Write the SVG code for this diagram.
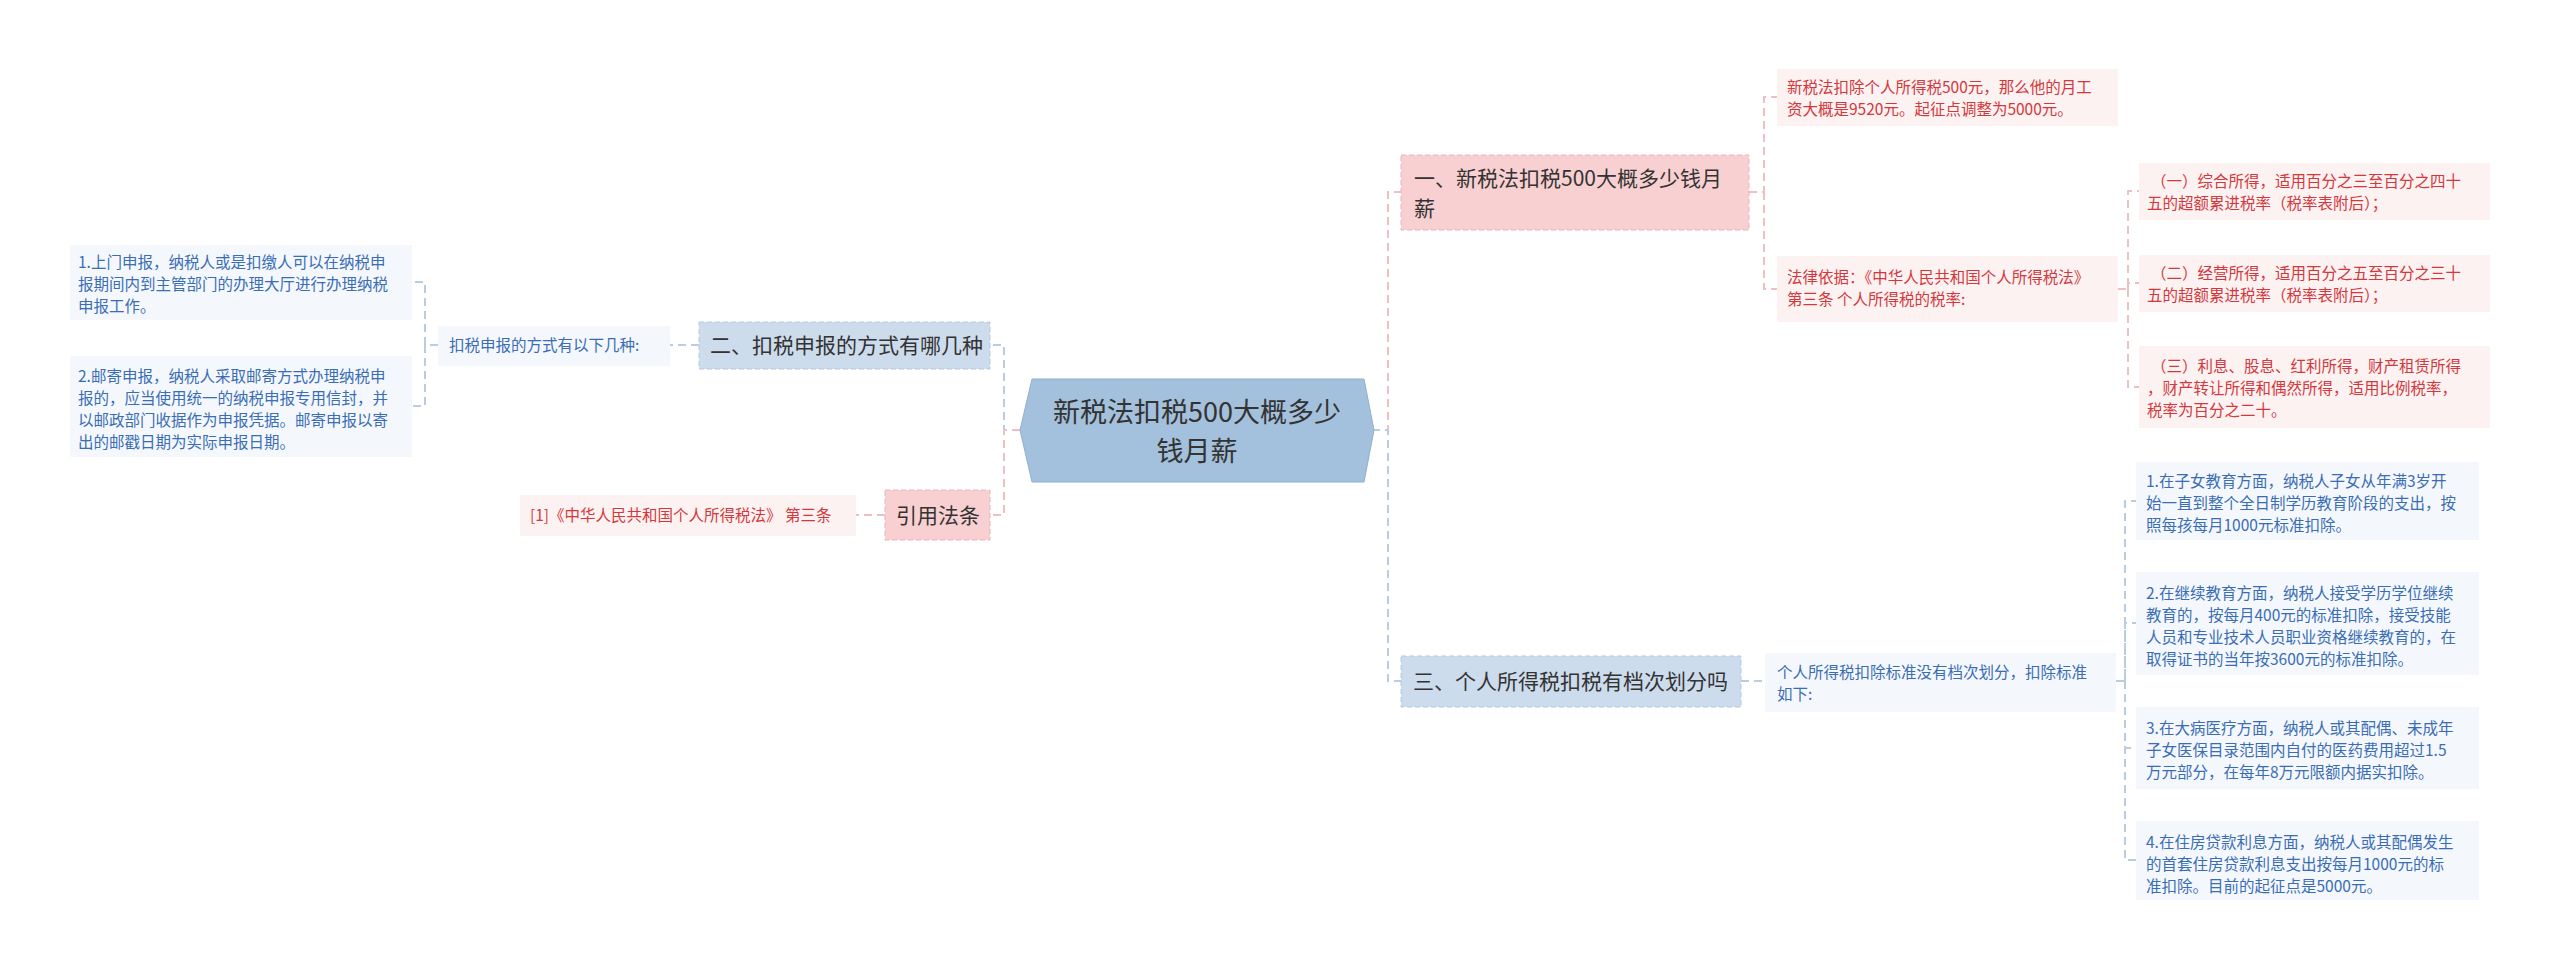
<svg xmlns="http://www.w3.org/2000/svg" width="2560" height="971" viewBox="0 0 2560 971">
<style>
text{font-family:"Noto Sans CJK SC","Liberation Sans",sans-serif}
.cb{fill:none;stroke:#b8cde3;stroke-width:2;stroke-dasharray:8 5}
.cp{fill:none;stroke:#efc0c3;stroke-width:2;stroke-dasharray:8 5}
.mb{fill:#cddcec;stroke:#b3c8df;stroke-dasharray:5 3}
.mp{fill:#f8d0d1;stroke:#eab4b6;stroke-dasharray:5 3}
.lb{fill:#f4f8fd}
.lp{fill:#fdf2f2}
.tm{font-size:21px;fill:#333}
.tb{font-size:15.5px;fill:#3a6db5}
.tr{font-size:15.5px;fill:#d3383c}
</style>
<g id="connectors">
<path class="cb" d="M1020 430H1004V345H990"/>
<path class="cp" d="M1020 430H1004V515H990"/>
<path class="cp" d="M1372 430H1388V192H1401"/>
<path class="cb" d="M1372 430H1388V681H1401"/>
<path class="cb" d="M699 345H670"/>
<path class="cb" d="M438 345H425V282H412M425 345V406H412"/>
<path class="cp" d="M885 515H856"/>
<path class="cp" d="M1749 192H1764V97H1777M1764 192V289H1777"/>
<path class="cp" d="M2118 289H2128V191H2139M2128 289V283H2139M2128 289V387H2139"/>
<path class="cb" d="M1741 681H1765"/>
<path class="cb" d="M2116 681H2125V501H2136M2125 681V623H2136M2125 681V748H2136M2125 681V860H2136"/>
</g>
<g id="center">
<polygon points="1032,379 1364,379 1374,430 1364,482 1032,482 1020,430" fill="#a3c0dc" stroke="#8fb0d0"/>
<text x="1197" y="422" font-size="27" fill="#333" text-anchor="middle">新税法扣税500大概多少</text>
<text x="1197" y="461" font-size="27" fill="#333" text-anchor="middle">钱月薪</text>
</g>
<g id="n2"><rect class="mb" x="699" y="322" width="291" height="47"/><text class="tm" x="710" y="353">二、扣税申报的方式有哪几种</text></g>
<g id="n2a"><rect class="lb" x="438" y="326" width="232" height="40"/><text class="tb" x="449" y="351">扣税申报的方式有以下几种:</text></g>
<g id="n2a1"><rect class="lb" x="70" y="245" width="342" height="75"/>
<text class="tb" x="78" y="268">1.上门申报，纳税人或是扣缴人可以在纳税申</text>
<text class="tb" x="78" y="290">报期间内到主管部门的办理大厅进行办理纳税</text>
<text class="tb" x="78" y="312">申报工作。</text></g>
<g id="n2a2"><rect class="lb" x="70" y="356" width="342" height="101"/>
<text class="tb" x="78" y="382">2.邮寄申报，纳税人采取邮寄方式办理纳税申</text>
<text class="tb" x="78" y="404">报的，应当使用统一的纳税申报专用信封，并</text>
<text class="tb" x="78" y="426">以邮政部门收据作为申报凭据。邮寄申报以寄</text>
<text class="tb" x="78" y="448">出的邮戳日期为实际申报日期。</text></g>
<g id="ref"><rect class="mp" x="885" y="490" width="105" height="50"/><text class="tm" x="896" y="523">引用法条</text></g>
<g id="ref1"><rect class="lp" x="520" y="495" width="336" height="41"/><text class="tr" x="530" y="521">[1]《中华人民共和国个人所得税法》 第三条</text></g>
<g id="n1"><rect class="mp" x="1401" y="155" width="348" height="75"/>
<text class="tm" x="1414" y="186">一、新税法扣税500大概多少钱月</text>
<text class="tm" x="1414" y="216">薪</text></g>
<g id="n1a"><rect class="lp" x="1777" y="69" width="341" height="57"/>
<text class="tr" x="1787" y="93">新税法扣除个人所得税500元，那么他的月工</text>
<text class="tr" x="1787" y="115">资大概是9520元。起征点调整为5000元。</text></g>
<g id="n1b"><rect class="lp" x="1777" y="256" width="341" height="66"/>
<text class="tr" x="1787" y="283">法律依据：《中华人民共和国个人所得税法》</text>
<text class="tr" x="1787" y="305"> 第三条 个人所得税的税率:</text></g>
<g id="n1b1"><rect class="lp" x="2139" y="163" width="351" height="57"/>
<text class="tr" x="2151" y="187">（一）综合所得，适用百分之三至百分之四十</text>
<text class="tr" x="2147" y="209">五的超额累进税率（税率表附后）；</text></g>
<g id="n1b2"><rect class="lp" x="2139" y="255" width="351" height="57"/>
<text class="tr" x="2151" y="279">（二）经营所得，适用百分之五至百分之三十</text>
<text class="tr" x="2147" y="301">五的超额累进税率（税率表附后）；</text></g>
<g id="n1b3"><rect class="lp" x="2139" y="346" width="351" height="82"/>
<text class="tr" x="2151" y="372">（三）利息、股息、红利所得，财产租赁所得</text>
<text class="tr" x="2147" y="394">，财产转让所得和偶然所得，适用比例税率，</text>
<text class="tr" x="2147" y="416">税率为百分之二十。</text></g>
<g id="n3"><rect class="mb" x="1401" y="656" width="340" height="51"/><text class="tm" x="1413" y="689">三、个人所得税扣税有档次划分吗</text></g>
<g id="n3a"><rect class="lb" x="1765" y="653" width="351" height="59"/>
<text class="tb" x="1777" y="678">个人所得税扣除标准没有档次划分，扣除标准</text>
<text class="tb" x="1777" y="700">如下:</text></g>
<g id="n3a1"><rect class="lb" x="2136" y="462" width="343" height="78"/>
<text class="tb" x="2146" y="487">1.在子女教育方面，纳税人子女从年满3岁开</text>
<text class="tb" x="2146" y="509">始一直到整个全日制学历教育阶段的支出，按</text>
<text class="tb" x="2146" y="531">照每孩每月1000元标准扣除。</text></g>
<g id="n3a2"><rect class="lb" x="2136" y="572" width="343" height="103"/>
<text class="tb" x="2146" y="599">2.在继续教育方面，纳税人接受学历学位继续</text>
<text class="tb" x="2146" y="621">教育的，按每月400元的标准扣除，接受技能</text>
<text class="tb" x="2146" y="643">人员和专业技术人员职业资格继续教育的，在</text>
<text class="tb" x="2146" y="665">取得证书的当年按3600元的标准扣除。</text></g>
<g id="n3a3"><rect class="lb" x="2136" y="707" width="343" height="82"/>
<text class="tb" x="2146" y="734">3.在大病医疗方面，纳税人或其配偶、未成年</text>
<text class="tb" x="2146" y="756">子女医保目录范围内自付的医药费用超过1.5</text>
<text class="tb" x="2146" y="778">万元部分，在每年8万元限额内据实扣除。</text></g>
<g id="n3a4"><rect class="lb" x="2136" y="821" width="343" height="79"/>
<text class="tb" x="2146" y="848">4.在住房贷款利息方面，纳税人或其配偶发生</text>
<text class="tb" x="2146" y="870">的首套住房贷款利息支出按每月1000元的标</text>
<text class="tb" x="2146" y="892">准扣除。目前的起征点是5000元。</text></g>
</svg>
